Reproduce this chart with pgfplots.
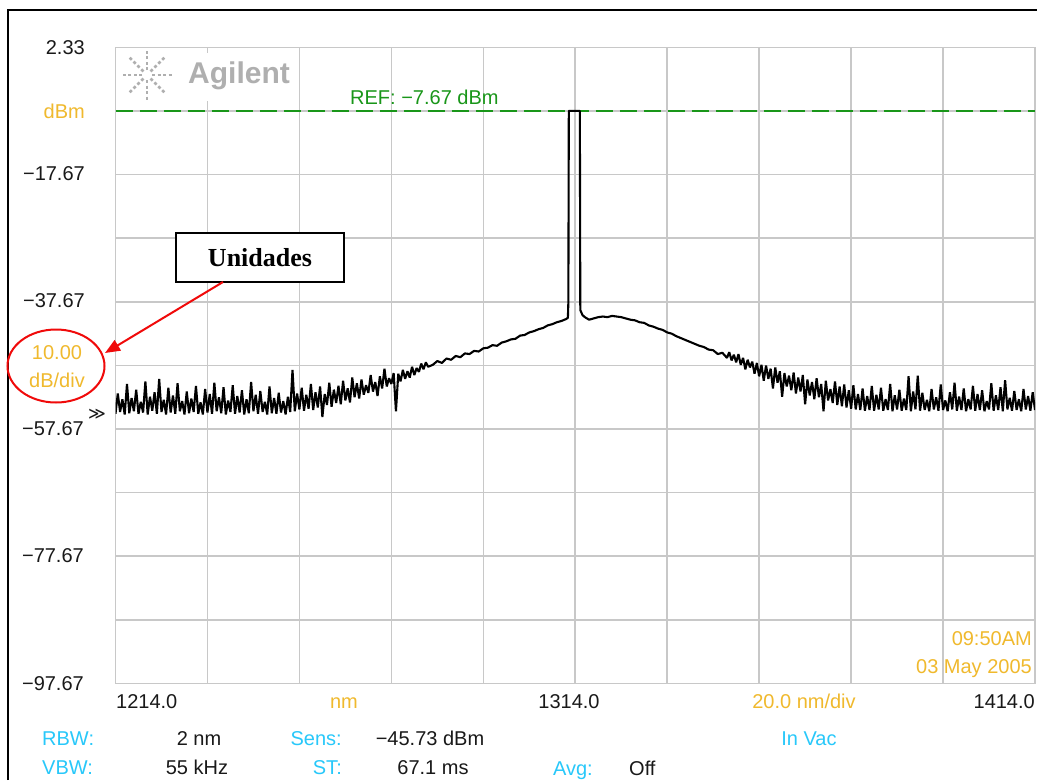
\documentclass[border=0pt]{standalone}
\usepackage{pgfplots}
\pgfplotsset{compat=1.18}
\usetikzlibrary{arrows.meta}
\usepackage{fontspec}
\setmainfont{Liberation Sans}
\newfontfamily\serifbold{Liberation Serif}
\newfontfamily\symfont{DejaVu Sans}

\definecolor{osaorange}{RGB}{240,185,45}
\definecolor{osacyan}{RGB}{40,200,250}
\definecolor{osagreen}{RGB}{25,150,25}
\definecolor{osagrid}{RGB}{200,200,200}
\definecolor{osatext}{RGB}{25,25,25}
\definecolor{osalogo}{RGB}{175,175,175}
\definecolor{osared}{RGB}{240,10,10}

\begin{document}
\begin{tikzpicture}
\fill[white] (0pt,0pt) rectangle (1037pt,-780pt);

\begin{axis}[
  at={(115.5pt,-683.3pt)}, anchor=south west,
  scale only axis, width=919.5pt, height=636pt,
  xmin=1214, xmax=1414, ymin=-97.67, ymax=2.33,
  xtick={1214,1234,...,1414},
  ytick={-97.67,-87.67,-77.67,-67.67,-57.67,-47.67,-37.67,-27.67,-17.67,-7.67,2.33},
  xticklabels={}, yticklabels={},
  major tick length=0pt,
  grid=major,
  major grid style={draw=osagrid, line width=1.6pt},
  axis line style={draw=osagrid, line width=1.6pt},
]
% reference level
\addplot[osagreen, line width=1.5pt, dash pattern=on 17pt off 7pt]
  coordinates {(1214,-7.67) (1414,-7.67)};
% measured trace
\addplot[black, line width=2.1pt, line join=bevel] table {
x y
1214.0 -55.3
1214.5 -52.1
1215.0 -55.0
1215.5 -53.0
1216.0 -55.4
1216.5 -50.6
1217.0 -55.2
1217.5 -52.8
1218.0 -54.9
1218.5 -51.5
1219.0 -55.3
1219.5 -53.4
1220.0 -55.1
1220.5 -50.2
1221.0 -55.4
1221.5 -52.6
1222.0 -54.8
1222.5 -51.9
1223.0 -55.3
1223.5 -49.8
1224.0 -55.0
1224.5 -53.1
1225.0 -55.4
1225.5 -51.2
1226.0 -55.1
1226.5 -52.4
1227.0 -55.3
1227.5 -50.5
1228.0 -54.9
1228.5 -53.3
1229.0 -55.4
1229.5 -51.8
1230.0 -55.2
1230.5 -52.9
1231.0 -55.0
1231.5 -50.9
1232.0 -55.3
1232.5 -53.5
1233.0 -55.4
1233.5 -51.4
1234.0 -55.1
1234.5 -52.2
1235.0 -55.3
1235.5 -50.4
1236.0 -54.9
1236.5 -52.7
1237.0 -55.2
1237.5 -51.1
1238.0 -55.4
1238.5 -53.2
1239.0 -55.0
1239.5 -50.8
1240.0 -55.3
1240.5 -52.5
1241.0 -55.1
1241.5 -51.6
1242.0 -55.4
1242.5 -53.0
1243.0 -55.2
1243.5 -50.3
1244.0 -54.9
1244.5 -52.3
1245.0 -55.3
1245.5 -51.7
1246.0 -55.0
1246.5 -53.4
1247.0 -55.4
1247.5 -51.0
1248.0 -55.2
1248.5 -52.8
1249.0 -55.3
1249.5 -52.0
1250.0 -55.1
1250.5 -53.3
1251.0 -55.4
1251.5 -52.6
1252.0 -55.0
1252.5 -48.4
1253.0 -54.9
1253.5 -52.1
1254.0 -54.6
1254.5 -51.2
1255.0 -54.8
1255.5 -52.3
1256.0 -54.5
1256.5 -50.6
1257.0 -54.7
1257.5 -51.9
1258.0 -54.3
1258.5 -51.0
1259.0 -55.8
1259.5 -52.2
1260.0 -53.9
1260.5 -50.4
1261.0 -54.2
1261.5 -51.5
1262.0 -53.6
1262.5 -50.9
1263.0 -53.8
1263.5 -50.1
1264.0 -53.2
1264.5 -51.3
1265.0 -53.5
1265.5 -49.6
1266.0 -52.7
1266.5 -50.5
1267.0 -52.9
1267.5 -49.9
1268.0 -52.3
1268.5 -50.8
1269.0 -52.0
1269.5 -49.2
1270.0 -51.8
1270.5 -50.3
1271.0 -52.5
1271.5 -49.4
1272.0 -51.3
1272.5 -48.2
1273.0 -51.0
1273.5 -49.7
1274.0 -50.6
1274.5 -48.9
1275.0 -54.9
1275.5 -49.0
1276.0 -50.2
1276.5 -48.4
1277.0 -49.8
1277.5 -48.6
1278.0 -49.6
1278.5 -47.9
1279.0 -49.2
1279.5 -48.1
1280.0 -48.7
1280.5 -47.4
1281.0 -48.3
1281.5 -47.2
1282.0 -47.9
1283.0 -47.6
1284.0 -47.0
1285.0 -47.3
1286.0 -46.6
1287.0 -46.8
1288.0 -46.2
1289.0 -46.4
1290.0 -45.8
1291.0 -45.9
1292.0 -45.4
1293.0 -45.5
1294.0 -45.0
1295.0 -44.9
1296.0 -44.5
1297.0 -44.6
1298.0 -44.1
1299.0 -43.9
1300.0 -43.6
1301.0 -43.5
1302.0 -43.0
1303.0 -42.9
1304.0 -42.5
1305.0 -42.3
1306.0 -42.0
1307.0 -41.8
1308.0 -41.4
1309.0 -41.2
1310.0 -40.9
1311.0 -40.7
1312.0 -40.4
1312.4 -40.2
1312.5 -37.8
1312.6 -7.67
1315.0 -7.67
1315.1 -39.0
1315.6 -39.8
1316.1 -40.1
1317.0 -40.5
1318.0 -40.3
1319.0 -40.1
1320.0 -40.0
1321.0 -40.1
1322.0 -39.9
1323.0 -40.0
1324.0 -40.1
1325.0 -40.3
1326.0 -40.5
1327.0 -40.6
1328.0 -40.9
1329.0 -41.0
1330.0 -41.4
1331.0 -41.6
1332.0 -41.9
1333.0 -42.1
1334.0 -42.5
1335.0 -42.7
1336.0 -43.1
1337.0 -43.4
1338.0 -43.7
1339.0 -44.0
1340.0 -44.3
1341.0 -44.6
1342.0 -44.8
1343.0 -45.2
1344.0 -45.3
1345.0 -45.9
1346.0 -45.7
1347.0 -46.5
1347.5 -45.6
1348.0 -46.9
1348.5 -46.0
1349.0 -47.2
1349.5 -45.9
1350.0 -47.6
1350.5 -46.5
1351.0 -48.3
1351.5 -46.8
1352.0 -48.0
1352.5 -47.1
1353.0 -49.0
1353.5 -47.3
1354.0 -49.4
1354.5 -47.6
1355.0 -50.1
1355.5 -47.7
1356.0 -49.8
1356.5 -48.2
1357.0 -51.3
1357.5 -48.0
1358.0 -50.4
1358.5 -48.6
1359.0 -52.6
1359.5 -48.9
1360.0 -51.0
1360.5 -49.3
1361.0 -51.6
1361.5 -48.8
1362.0 -52.1
1362.5 -49.6
1363.0 -51.8
1363.5 -49.2
1364.0 -53.8
1364.5 -49.9
1365.0 -52.4
1365.5 -50.3
1366.0 -53.0
1366.5 -49.7
1367.0 -52.7
1367.5 -50.6
1368.0 -54.9
1368.5 -50.1
1369.0 -53.2
1369.5 -51.4
1370.0 -53.6
1370.5 -50.2
1371.0 -53.9
1371.5 -51.0
1372.0 -54.1
1372.5 -50.7
1373.0 -54.3
1373.5 -51.6
1374.0 -54.5
1374.5 -50.8
1375.0 -54.6
1375.5 -52.2
1376.0 -54.7
1376.5 -51.3
1377.0 -54.8
1377.5 -52.5
1378.0 -54.7
1378.5 -50.9
1379.0 -54.8
1379.5 -52.3
1380.0 -54.6
1380.5 -51.2
1381.0 -54.8
1381.5 -53.0
1382.0 -54.7
1382.5 -50.6
1383.0 -54.9
1383.5 -52.4
1384.0 -54.6
1384.5 -51.5
1385.0 -54.8
1385.5 -52.9
1386.0 -54.7
1386.5 -49.4
1387.0 -54.9
1387.5 -51.8
1388.0 -54.6
1388.5 -49.3
1389.0 -54.8
1389.5 -52.0
1390.0 -54.7
1390.5 -53.1
1391.0 -54.9
1391.5 -51.4
1392.0 -54.6
1392.5 -52.7
1393.0 -54.8
1393.5 -50.7
1394.0 -54.7
1394.5 -53.2
1395.0 -54.9
1395.5 -51.9
1396.0 -54.6
1396.5 -50.4
1397.0 -54.8
1397.5 -52.6
1398.0 -54.7
1398.5 -51.3
1399.0 -54.9
1399.5 -53.0
1400.0 -54.6
1400.5 -50.9
1401.0 -54.8
1401.5 -52.2
1402.0 -54.7
1402.5 -51.6
1403.0 -54.9
1403.5 -53.3
1404.0 -54.6
1404.5 -50.5
1405.0 -54.8
1405.5 -52.4
1406.0 -54.7
1406.5 -51.1
1407.0 -54.9
1407.5 -50.0
1408.0 -54.6
1408.5 -52.8
1409.0 -54.8
1409.5 -51.7
1410.0 -54.7
1410.5 -53.0
1411.0 -54.9
1411.5 -51.4
1412.0 -54.6
1412.5 -52.5
1413.0 -54.8
1413.5 -51.9
1414.0 -54.7
};
\end{axis}

\begin{scope}[x=1pt, y=-1pt]
  % window frame
  \draw[black, line width=2pt] (8,780) -- (8,9.5) -- (1037,9.5);

  % logo patch over the grid
  \fill[white] (117.5,53) rectangle (298,101);
  \begin{scope}[osalogo, line width=2.6pt]
    \foreach \a in {0,45,...,315}
      \draw[dash pattern=on 3pt off 2.5pt] (147,75) ++(\a:5) -- ++(\a:20);
  \end{scope}
  \node[anchor=west, inner sep=0pt, text=osalogo, font=\fontsize{30}{34}\selectfont\bfseries] at (188,76) {Agilent};

  \tikzset{lab/.style={inner sep=0pt, text height=14.3pt, text depth=0pt, font=\fontsize{20}{24}\selectfont}}

  % reference level tag
  \node[lab, anchor=west, text=osagreen] at (350,97) {REF: −7.67 dBm};

  % level scale
  \node[lab, anchor=east, text=osatext] at (85,47) {2.33};
  \node[lab, anchor=east, text=osaorange] at (85,111) {dBm};
  \node[lab, anchor=east, text=osatext] at (85,173) {−17.67};
  \node[lab, anchor=east, text=osatext] at (85,300) {−37.67};
  \node[lab, anchor=center, text=osaorange] at (57,352) {10.00};
  \node[lab, anchor=center, text=osaorange] at (57,380) {dB/div};
  \node[lab, anchor=east, text=osatext] at (84,428) {−57.67};
  \node[lab, anchor=east, text=osatext] at (84,555) {−77.67};
  \node[lab, anchor=east, text=osatext] at (84,683) {−97.67};
  \node[inner sep=0pt, text=osatext, font=\symfont\fontsize{17}{17}\selectfont] at (97,414) {≫};

  % wavelength scale
  \node[lab, anchor=west, text=osatext] at (116,701) {1214.0};
  \node[lab, anchor=center, text=osaorange] at (344,701) {nm};
  \node[lab, anchor=center, text=osatext] at (569,701) {1314.0};
  \node[lab, anchor=center, text=osaorange] at (804,701) {20.0 nm/div};
  \node[lab, anchor=east, text=osatext] at (1035,701) {1414.0};

  % time stamp
  \node[lab, anchor=east, text=osaorange] at (1032,638) {09:50AM};
  \node[lab, anchor=east, text=osaorange] at (1032,666) {03 May 2005};

  % instrument settings
  \node[lab, anchor=west, text=osacyan] at (42,738) {RBW:};
  \node[lab, anchor=center, text=osatext] at (199,738) {2 nm};
  \node[lab, anchor=east, text=osacyan] at (342,738) {Sens:};
  \node[lab, anchor=center, text=osatext] at (430,738) {−45.73 dBm};
  \node[lab, anchor=center, text=osacyan] at (809,738) {In Vac};
  \node[lab, anchor=west, text=osacyan] at (42,767) {VBW:};
  \node[lab, anchor=center, text=osatext] at (197,767) {55 kHz};
  \node[lab, anchor=east, text=osacyan] at (342,767) {ST:};
  \node[lab, anchor=center, text=osatext] at (433,767) {67.1 ms};
  \node[lab, anchor=east, text=osacyan] at (593,768) {Avg:};
  \node[lab, anchor=west, text=osatext] at (629,768) {Off};

  % annotation
  \draw[black, line width=2pt, fill=white] (176,233) rectangle (344,282);
  \node[inner sep=0pt, font=\serifbold\bfseries\fontsize{26}{30}\selectfont] at (260,258) {Unidades};
  \draw[osared, line width=2pt, -{Triangle[length=15pt, width=12pt]}] (223,282) -- (105,353);
  \draw[osared, line width=2pt] (56,366) ellipse [x radius=48.5, y radius=36.5];
\end{scope}

\pgfresetboundingbox
\path (0pt,0pt) rectangle (1037pt,-780pt);
\end{tikzpicture}
\end{document}
